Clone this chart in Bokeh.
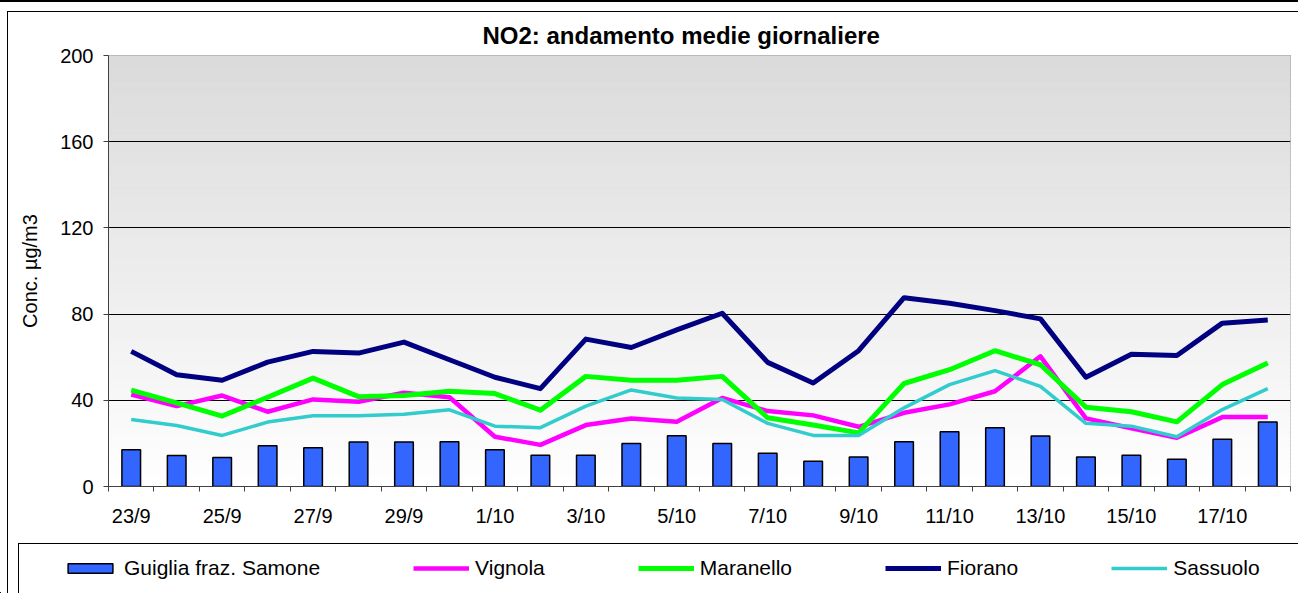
import numpy as np
from bokeh.plotting import figure
from bokeh.models import FixedTicker, Legend, LegendItem, Range1d
from bokeh.embed import file_html
from bokeh.resources import INLINE

# ---- data -------------------------------------------------------------
days = ["23/9", "24/9", "25/9", "26/9", "27/9", "28/9", "29/9", "30/9",
        "1/10", "2/10", "3/10", "4/10", "5/10", "6/10", "7/10", "8/10",
        "9/10", "10/10", "11/10", "12/10", "13/10", "14/10", "15/10",
        "16/10", "17/10", "18/10"]
guiglia = [17, 14.4, 13.5, 18.9, 18, 20.6, 20.7, 20.8, 17.1, 14.5, 14.5, 19.9,
           23.5, 20.0, 15.4, 11.7, 13.7, 20.8, 25.4, 27.3, 23.4, 13.7, 14.5,
           12.6, 21.9, 29.9]
vignola = [42.7, 37.3, 42.2, 34.7, 40.4, 39.3, 43.5, 41.4, 23.1, 19.3, 28.5,
           31.6, 30.0, 41.1, 35.0, 33.0, 27.7, 34.2, 38.1, 44.2, 60.4, 31.6,
           27.0, 22.6, 32.2, 32.2]
maranello = [44.7, 38.8, 32.7, 41.4, 50.3, 41.7, 42.2, 44.2, 43.1, 35.4, 51.1,
             49.3, 49.3, 51.1, 31.9, 28.5, 24.9, 47.8, 54.2, 63.0, 56.5, 36.8,
             34.7, 30.0, 47.3, 57.3]
fiorano = [62.7, 51.9, 49.3, 57.7, 62.7, 61.9, 67.0, 58.8, 50.7, 45.4, 68.4,
           64.5, 72.7, 80.4, 57.6, 48.0, 63.0, 87.6, 85.0, 81.6, 77.8, 50.7,
           61.4, 60.8, 75.8, 77.3]
sassuolo = [31.1, 28.3, 23.7, 29.9, 32.8, 32.8, 33.5, 35.6, 28.0, 27.3, 37.3,
            44.8, 41.1, 40.4, 29.3, 23.7, 23.7, 36.5, 47.3, 53.8, 46.5, 29.3,
            28.0, 23.1, 35.7, 45.4]
series_names = ["Guiglia fraz. Samone", "Vignola", "Maranello", "Fiorano", "Sassuolo"]
y_ticks = [0, 40, 80, 120, 160, 200]
title_text = "NO2: andamento medie giornaliere"
y_label = "Conc. µg/m3"

FONT = "Liberation Sans"
n = len(days)
x = np.arange(n)
line_series = [vignola, maranello, fiorano, sassuolo]

BAR = dict(fill_color="#3366FF", line_color="black", line_width=1.5)
LINES = [dict(line_color="#FF00FF", line_width=4.5),
         dict(line_color="#00FF00", line_width=5),
         dict(line_color="#000080", line_width=5),
         dict(line_color="#33CCCC", line_width=3.5)]


def css_lines(segs):
    parts = ["linear-gradient(#000,#000) %s / %s no-repeat" % s for s in segs]
    return ", ".join(parts + ["#ffffff"])


# ---- main chart ---------------------------------------------------------
bg_main = css_lines([("0px 0px", "100% 2px"),
                     ("7px 11px", "100% 1px"),
                     ("7px 11px", "1px 100%")])

p = figure(width=1298, height=535, output_backend="svg", toolbar_location=None,
           x_range=Range1d(-0.5, n - 0.5), y_range=Range1d(y_ticks[0], y_ticks[-1]),
           min_border_left=108, min_border_right=8, min_border_top=55,
           min_border_bottom=49, styles={"background": bg_main})
p.background_fill_color = "white"
p.border_fill_color = None
p.outline_line_color = "#808080"
p.outline_line_width = 1

# gradient background (styling bands over the y range)
nb = 100
edges = np.linspace(y_ticks[0], y_ticks[-1], nb + 1)
vals = np.linspace(255, 219, nb).astype(int)
cols = ["#%02x%02x%02x" % (v, v, v) for v in vals]
p.quad(left=-0.5, right=n - 0.5, bottom=edges[:-1], top=edges[1:],
       fill_color=cols, line_color=cols, line_width=1, level="image")

p.xgrid.visible = False
p.ygrid.ticker = FixedTicker(ticks=y_ticks, minor_ticks=[])
p.ygrid.grid_line_color = "black"
p.ygrid.grid_line_width = 1

p.vbar(x=x, top=guiglia, width=0.41, **BAR)
for vals_, st in zip(line_series, LINES):
    p.line(x, vals_, line_join="round", **st)

xa = p.xaxis[0]
xa.ticker = FixedTicker(ticks=list(range(0, n, 2)),
                        minor_ticks=[i - 0.5 for i in range(n + 1)])
xa.major_label_overrides = {i: days[i] for i in range(0, n, 2)}
xa.major_tick_out = 0
xa.major_tick_in = 0
xa.minor_tick_out = 5
xa.minor_tick_in = 0
xa.minor_tick_line_color = "#404040"
xa.axis_line_color = "#404040"
xa.major_label_standoff = 13
xa.major_label_text_font = FONT
xa.major_label_text_font_size = "20px"
xa.major_label_text_color = "black"

ya = p.yaxis[0]
ya.ticker = FixedTicker(ticks=y_ticks, minor_ticks=[])
ya.major_tick_out = 5
ya.major_tick_in = 0
ya.major_tick_line_color = "#404040"
ya.minor_tick_line_color = None
ya.axis_line_color = "#404040"
ya.major_label_standoff = 10
ya.major_label_text_font = FONT
ya.major_label_text_font_size = "20px"
ya.major_label_text_color = "black"
ya.axis_label = y_label
ya.axis_label_standoff = 16
ya.axis_label_text_font = FONT
ya.axis_label_text_font_size = "20px"
ya.axis_label_text_font_style = "normal"
ya.axis_label_text_color = "black"

p.title.text = title_text
p.title.align = "left"
p.title.offset = 374
p.title.standoff = 13
p.title.text_font = FONT
p.title.text_font_size = "24px"
p.title.text_font_style = "bold"
p.title.text_color = "black"

# ---- legend strip ---------------------------------------------------------
bg_leg = css_lines([("7px 0px", "1px 100%"),
                    ("18px 8px", "100% 1px"),
                    ("18px 8px", "1px 100%")])
q = figure(width=1298, height=58, output_backend="svg", toolbar_location=None,
           x_range=Range1d(1000, 1001), y_range=Range1d(1000, 1001),
           x_axis_type=None, y_axis_type=None, min_border=0,
           styles={"background": bg_leg})
q.background_fill_color = None
q.border_fill_color = None
q.outline_line_color = None
q.xgrid.visible = False
q.ygrid.visible = False

# legend swatches: same series, drawn outside this strip's visible range
lr = [q.vbar(x=x, top=guiglia, width=0.41, **BAR)]
for vals_, st in zip(line_series, LINES):
    lr.append(q.line(x, vals_, **st))

items = [LegendItem(label=nm, renderers=[r]) for nm, r in zip(series_names, lr)]
legend = Legend(items=items, orientation="horizontal", location=(52, 3),
                glyph_width=56, glyph_height=12, label_standoff=6, spacing=93,
                padding=10, margin=0, label_text_font=FONT,
                label_text_font_size="21px", label_text_color="black",
                background_fill_alpha=0, border_line_alpha=0)
q.add_layout(legend, "center")

open("out.html", "w").write(file_html([p, q], INLINE))
